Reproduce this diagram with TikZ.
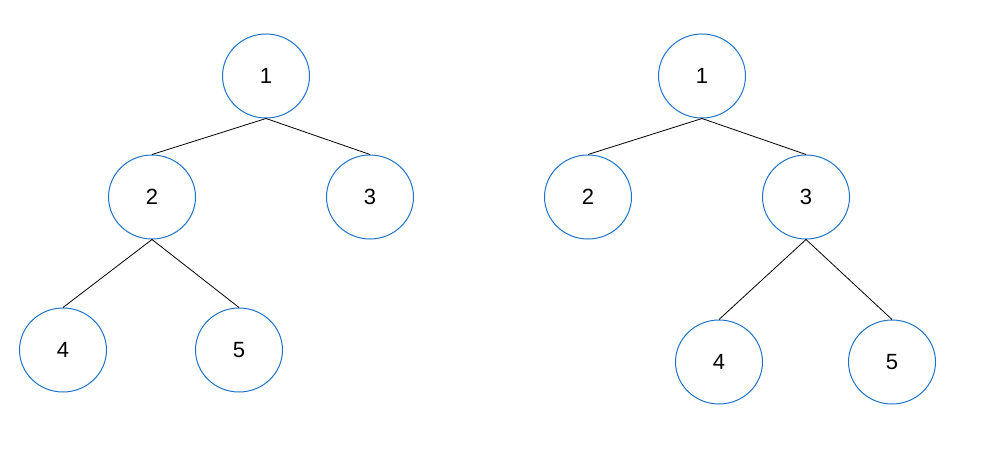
\documentclass[tikz,border=0pt]{standalone}
\usepackage{fontspec}
\setmainfont{Liberation Sans}
\usetikzlibrary{shapes.geometric}
\definecolor{nodeblue}{RGB}{30,115,200}
\begin{document}
\begin{tikzpicture}[x=1pt,y=-1pt,
  tnode/.style={ellipse,draw=nodeblue,line width=1pt,minimum width=87pt,minimum height=84pt,inner sep=0pt,font=\fontsize{22}{26}\selectfont},
  edge/.style={draw=black,line width=0.8pt}]
\useasboundingbox (0,0) rectangle (984,465);
% left tree
\node[tnode] (a1) at (266,76) {1};
\node[tnode] (a2) at (152,197) {2};
\node[tnode] (a3) at (370,197) {3};
\node[tnode] (a4) at (63,350) {4};
\node[tnode] (a5) at (239,350) {5};
\draw[edge] (a1.south) -- (a2.north);
\draw[edge] (a1.south) -- (a3.north);
\draw[edge] (a2.south) -- (a4.north);
\draw[edge] (a2.south) -- (a5.north);
% right tree
\node[tnode] (b1) at (702,76) {1};
\node[tnode] (b2) at (588,197) {2};
\node[tnode] (b3) at (806,197) {3};
\node[tnode] (b4) at (719,362) {4};
\node[tnode] (b5) at (892,362) {5};
\draw[edge] (b1.south) -- (b2.north);
\draw[edge] (b1.south) -- (b3.north);
\draw[edge] (b3.south) -- (b4.north);
\draw[edge] (b3.south) -- (b5.north);
\end{tikzpicture}
\end{document}
